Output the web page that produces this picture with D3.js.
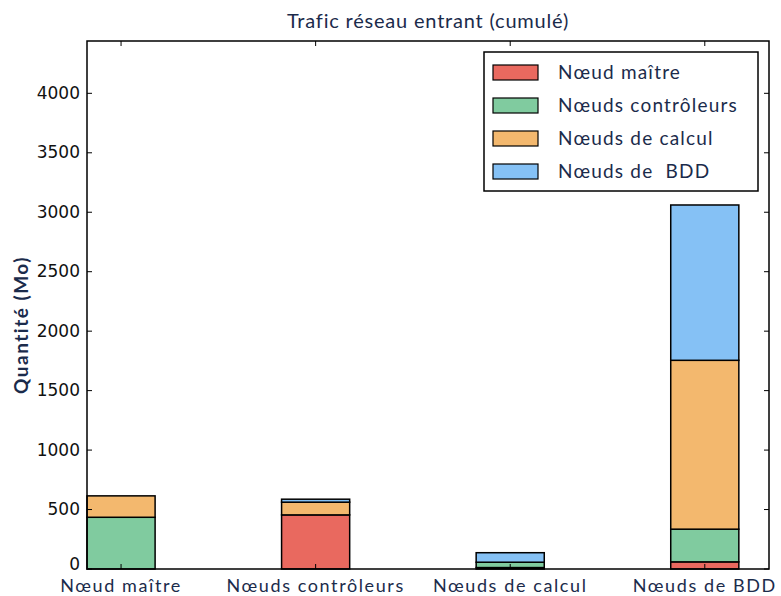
<!DOCTYPE html>
<html><head><meta charset="utf-8">
<script src="https://cdn.jsdelivr.net/npm/d3@7"></script>
<style>
body{margin:0;background:#fff;}
svg{display:block;}
</style></head>
<body><svg id="c" width="781" height="596"></svg>
<script>
const categories = ["Nœud maître","Nœuds contrôleurs","Nœuds de calcul","Nœuds de BDD"];
const seriesNames = ["Nœud maître","Nœuds contrôleurs","Nœuds de calcul","Nœuds de  BDD"];
const maitre      = [0, 455, 12, 60];
const controleurs = [435, 0, 45, 275];
const calcul      = [180, 107, 0, 1420];
const bdd         = [0, 25, 80, 1306];
const yTicks = [0,500,1000,1500,2000,2500,3000,3500,4000];
const colors = ["#E9695F","#80CB9F","#F3B86E","#85C1F5"];

const W=781,H=596;
const m={l:87,r:12,t:41,b:27};
const svg=d3.select("#c");
const iw=W-m.l-m.r, ih=H-m.t-m.b;
const g=svg.append("g").attr("transform",`translate(${m.l},${m.t})`);
const x=d3.scaleLinear().domain([-0.175,3.33]).range([0,iw]);
const y=d3.scaleLinear().domain([0,4440]).range([ih,0]);
const bw=0.35;
const navy="#1b2b4b";
const font="Lato, 'Open Sans', sans-serif";

const series=[maitre,controleurs,calcul,bdd];
const base=categories.map(()=>0);
series.forEach((s,si)=>{
  s.forEach((v,i)=>{
    if(v>0){
      g.append("rect")
        .attr("x",x(i-bw/2)).attr("width",x(bw)-x(0))
        .attr("y",y(base[i]+v)).attr("height",y(base[i])-y(base[i]+v))
        .attr("fill",colors[si]).attr("stroke","#000").attr("stroke-width",1.5);
    }
    base[i]+=v;
  });
});

// frame
g.append("rect").attr("x",0).attr("y",0).attr("width",iw).attr("height",ih)
 .attr("fill","none").attr("stroke","#000").attr("stroke-width",1.5);

// y ticks inside
const tl=5;
yTicks.forEach(t=>{
  g.append("line").attr("x1",0).attr("x2",tl).attr("y1",y(t)).attr("y2",y(t)).attr("stroke","#000");
  g.append("line").attr("x1",iw).attr("x2",iw-tl).attr("y1",y(t)).attr("y2",y(t)).attr("stroke","#000");
  g.append("text").attr("x",-7).attr("y",y(t)).attr("dy",t===0?"0.05em":"0.33em").attr("text-anchor","end")
   .attr("font-family","'DejaVu Sans', sans-serif").attr("font-size",17).attr("fill","#111").text(t);
});
// x ticks inside
categories.forEach((c,i)=>{
  g.append("line").attr("x1",x(i)).attr("x2",x(i)).attr("y1",ih).attr("y2",ih-tl).attr("stroke","#000");
  g.append("line").attr("x1",x(i)).attr("x2",x(i)).attr("y1",0).attr("y2",tl).attr("stroke","#000");
  g.append("text").attr("x",x(i)).attr("y",ih+23).attr("text-anchor","middle")
   .attr("font-family",font).attr("font-size",18).attr("letter-spacing","1.6px").attr("fill",navy).text(c);
});

// title
svg.append("text").attr("x",m.l+iw/2).attr("y",28).attr("text-anchor","middle")
 .attr("font-family",font).attr("font-size",20).attr("letter-spacing","0.8px").attr("fill",navy).text("Trafic réseau entrant (cumulé)");
// y label
svg.append("text").attr("transform",`translate(28,${m.t+ih/2+20}) rotate(-90)`).attr("text-anchor","middle")
 .attr("font-family",font).attr("font-size",19).attr("letter-spacing","1.5px").attr("font-weight","bold").attr("fill",navy).text("Quantité (Mo)");

// legend
const lg=svg.append("g").attr("transform","translate(484,52)");
lg.append("rect").attr("width",274).attr("height",139).attr("fill","#fff").attr("stroke","#000").attr("stroke-width",1.5);
seriesNames.forEach((n,i)=>{
  const cy=20+i*33;
  lg.append("rect").attr("x",9).attr("y",cy-7).attr("width",45).attr("height",15)
    .attr("fill",colors[i]).attr("stroke","#000").attr("stroke-width",1.2);
  lg.append("text").attr("x",74).attr("y",cy).attr("dy","0.35em").attr("xml:space","preserve")
    .style("white-space","pre").attr("letter-spacing","1.2px")
    .attr("font-family",font).attr("font-size",19).attr("fill",navy).text(n);
});
</script></body></html>
